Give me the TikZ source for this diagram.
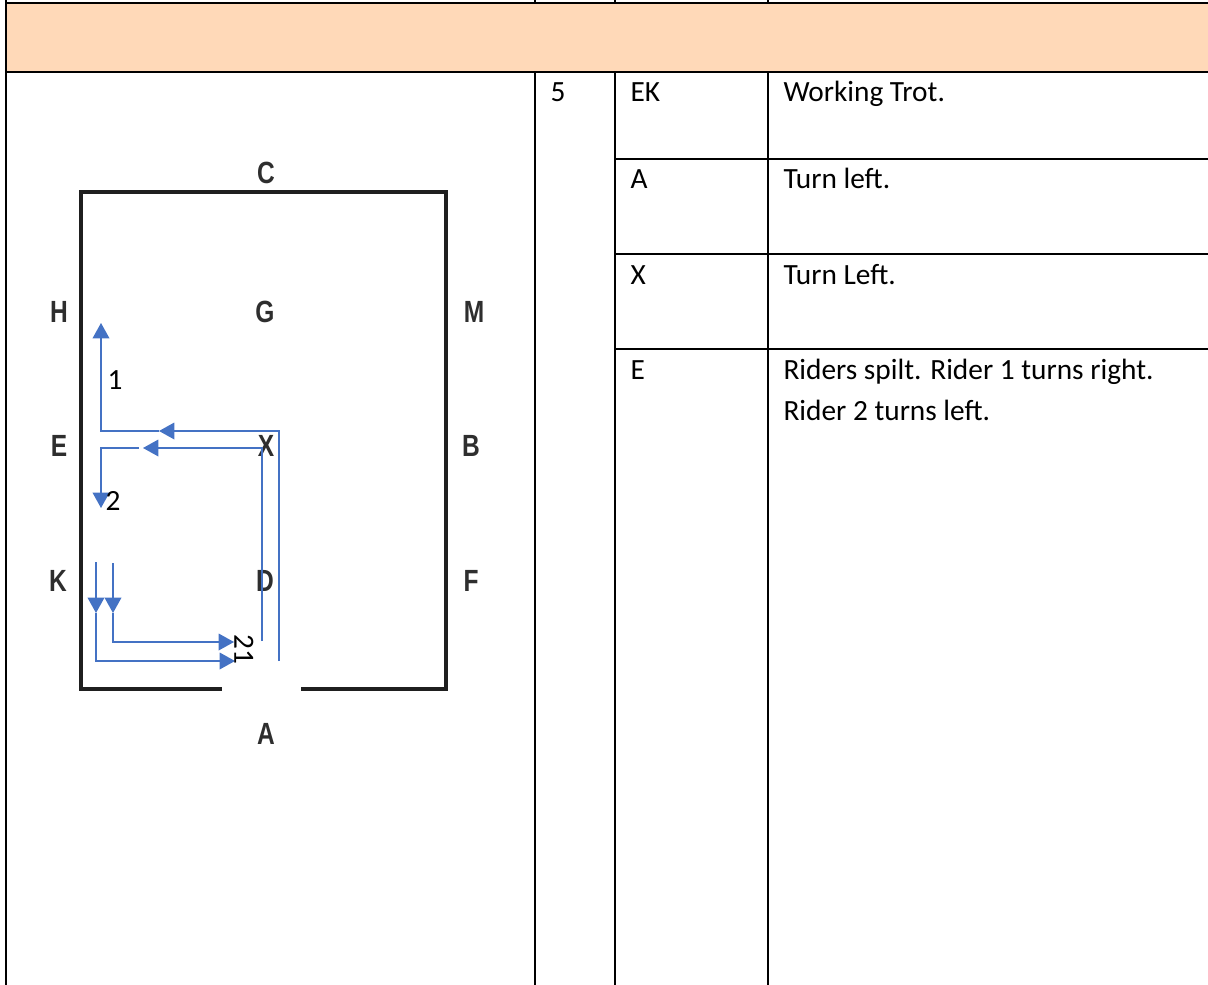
\documentclass[tikz,border=0pt]{standalone}
\usepackage{fontspec}
\setmainfont{Carlito}
\newfontfamily\arenafont[FakeStretch=0.8]{Liberation Sans}
\usetikzlibrary{arrows.meta}
\definecolor{peach}{HTML}{FFD9B8}
\definecolor{riderblue}{HTML}{4472C4}
\tikzset{every picture/.style={line width=0.75pt}}
\tikzset{
  gridline/.style={black,line width=1.5pt},
  arenawall/.style={black!88,line width=3pt,line cap=rect},
  riderline/.style={riderblue,line width=1pt},
  ridertip/.style={riderline,-{Triangle[length=11.5pt,width=12.5pt,fill=riderblue]}},
  celltext/.style={anchor=base west,inner sep=0pt,font=\fontsize{22}{26}\selectfont},
  arenaletter/.style={inner sep=0pt,font=\arenafont\bfseries\fontsize{23}{26}\selectfont,text=black!82},
  ridernum/.style={inner sep=0pt,font=\fontsize{22}{26}\selectfont},
}
\begin{document}
\begin{tikzpicture}[x=0.75pt,y=0.75pt,yscale=-1,xscale=1]

        \useasboundingbox (0,0) rectangle (1208,985);

        % table
        \fill[peach] (6,3) rectangle (1208,72);
        \coordinate (topl) at (6,3);
        \coordinate (topr) at (1208,3);
        \coordinate (headl) at (6,72);
        \coordinate (headr) at (1208,72);
        \coordinate (botl) at (6,985);
        \draw[gridline] (topl) -- (topr);
        \draw[gridline] (headl) -- (headr);
        \draw[gridline] (6,0) -- (botl);
        \draw[gridline] (535,0) -- (535,3);
        \draw[gridline] (615,0) -- (615,3);
        \draw[gridline] (768,0) -- (768,3);
        \draw[gridline] (535,72) -- (535,985);
        \draw[gridline] (615,72) -- (615,985);
        \draw[gridline] (768,72) -- (768,985);
        \draw[gridline] (615,159) -- (1208,159);
        \draw[gridline] (615,254) -- (1208,254);
        \draw[gridline] (615,349) -- (1208,349);

        \node[celltext] (num) at (550,101){5};
        \node[celltext] (ek) at (630,101){EK};
        \node[celltext] (a) at (630,188){A};
        \node[celltext] (x) at (630,284){X};
        \node[celltext] (e) at (630,379){E};
        \node[celltext] (trot) at (783,101){Working Trot.};
        \node[celltext] (left) at (783,188){Turn left.};
        \node[celltext] (leftb) at (783,284){Turn Left.};
        \node[celltext] (split) at (783,379){Riders spilt. Rider 1 turns right.};
        \node[celltext] (splitb) at (783,420){Rider 2 turns left.};

        % arena
        \coordinate (gapl) at (220,689);
        \coordinate (nw) at (81,192);
        \coordinate (ne) at (446,192);
        \coordinate (se) at (446,689);
        \coordinate (sw) at (81,689);
        \coordinate (gapr) at (303,689);
        \draw[arenawall] (gapl) -- (sw) -- (nw) -- (ne) -- (se) -- (gapr);

        \node[arenaletter] (lc) at (266,173){C};
        \node[arenaletter] (lg) at (265,312){G};
        \node[arenaletter] (lh) at (59,312){H};
        \node[arenaletter] (lm) at (474,312){M};
        \node[arenaletter] (le) at (59,446){E};
        \node[arenaletter] (lx) at (266,446){X};
        \node[arenaletter] (lb) at (471,446){B};
        \node[arenaletter] (lk) at (58,581){K};
        \node[arenaletter] (ld) at (265,581){D};
        \node[arenaletter] (lf) at (471,581){F};
        \node[arenaletter] (la) at (266,734){A};

        % rider 1
        \coordinate (oneA) at (279,661);
        \coordinate (oneB) at (279,431);
        \coordinate (oneC) at (159,431);
        \coordinate (oneD) at (101,431);
        \coordinate (oneE) at (101,323);
        \draw[ridertip] (oneA) -- (oneB) -- (oneC);
        \draw[ridertip] (oneC) -- (oneD) -- (oneE);

        % rider 2
        \coordinate (twoA) at (262,641);
        \coordinate (twoB) at (262,448);
        \coordinate (twoC) at (143,448);
        \coordinate (twoD) at (139,448);
        \coordinate (twoE) at (101,448);
        \coordinate (twoF) at (101,508);
        \draw[ridertip] (twoA) -- (twoB) -- (twoC);
        \draw[ridertip] (twoD) -- (twoE) -- (twoF);

        % entry lines
        \coordinate (inA) at (96,562);
        \coordinate (inB) at (96,613);
        \coordinate (inC) at (96,661);
        \coordinate (inD) at (235,661);
        \coordinate (inE) at (113,563);
        \coordinate (inF) at (113,613);
        \coordinate (inG) at (113,642);
        \coordinate (inH) at (234,642);
        \draw[ridertip] (inA) -- (inB);
        \draw[ridertip] (inB) -- (inC) -- (inD);
        \draw[ridertip] (inE) -- (inF);
        \draw[ridertip] (inF) -- (inG) -- (inH);

        \node[ridernum] (numone) at (115,380){1};
        \node[ridernum] (numtwo) at (113,501){2};
        \node[ridernum,rotate=-90] (numboth) at (244,649){21};

\end{tikzpicture}
\end{document}
